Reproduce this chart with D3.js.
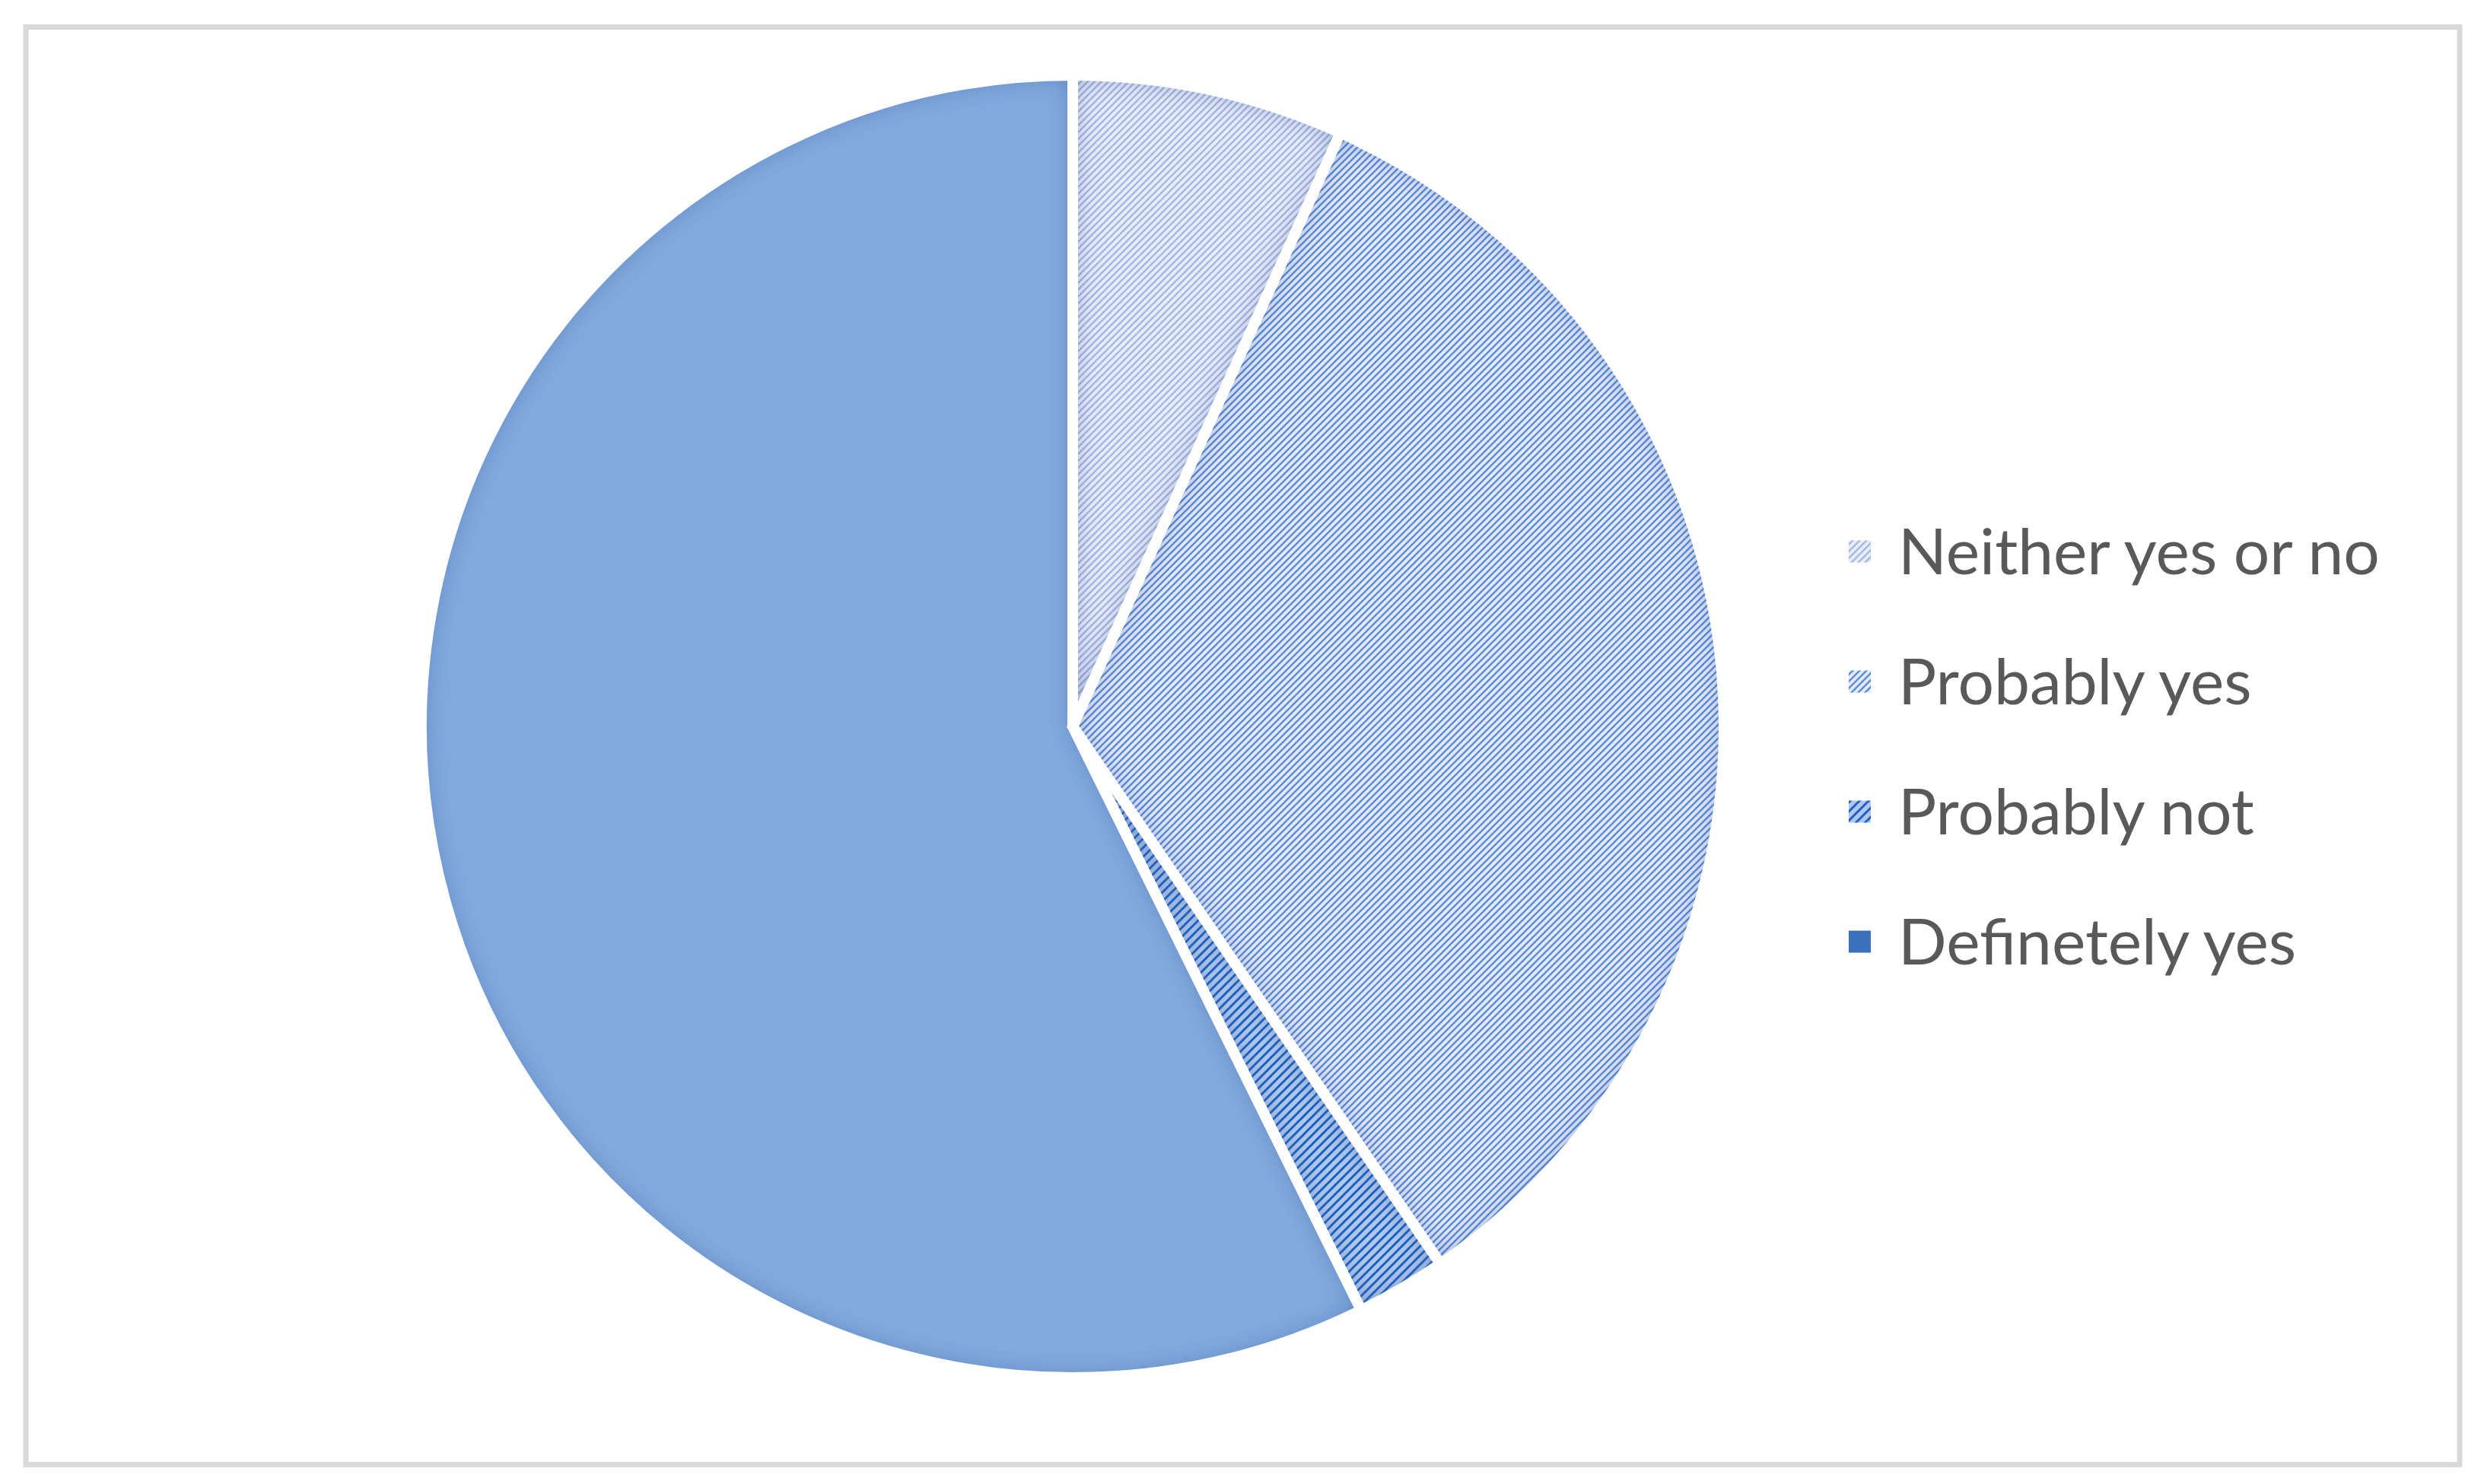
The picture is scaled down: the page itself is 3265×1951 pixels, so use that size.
<!DOCTYPE html>
<html>
<head>
<meta charset="utf-8">
<script src="https://cdn.jsdelivr.net/npm/d3@7"></script>
<style>
  html, body { margin: 0; padding: 0; background: #ffffff; }
  svg { display: block; }
</style>
</head>
<body>
<svg id="chart" width="3265" height="1951"></svg>
<script>
// ---- data ----
const categories = ["Neither yes or no", "Probably yes", "Probably not", "Definetely yes"];
const values = [6, 30, 2, 51];

// ---- styles ----
const fills = [
  { id: "patNeither", bg: "#e8edf8", line: "#a6b7e3", size: 9, width: 2.4 },
  { id: "patProbYes", bg: "#e2e9f7", line: "#5a8ad9", size: 9, width: 2.3 },
  { id: "patProbNot", bg: "#afc7ec", line: "#1f60c0", size: 12, width: 3 },
  { id: null, bg: "#82aade" }
];

const W = 3265, H = 1951;
const cx = 1410, cy = 955, R = 856;

const svg = d3.select("#chart");
const defs = svg.append("defs");

// hatch patterns
fills.forEach(f => {
  if (!f.id) return;
  const p = defs.append("pattern")
    .attr("id", f.id)
    .attr("patternUnits", "userSpaceOnUse")
    .attr("width", f.size).attr("height", f.size);
  p.append("rect").attr("width", f.size).attr("height", f.size).attr("fill", f.bg);
  const s = f.size;
  p.append("path")
    .attr("d", `M${-s/2},${s/2} L${s/2},${-s/2} M0,${s} L${s},0 M${s/2},${s*1.5} L${s*1.5},${s/2}`)
    .attr("stroke", f.line).attr("stroke-width", f.width).attr("stroke-linecap", "square");
});

// inner shadow filter
const filt = defs.append("filter").attr("id", "inner")
  .attr("x", "-10%").attr("y", "-10%").attr("width", "120%").attr("height", "120%");
filt.append("feFlood").attr("flood-color", "#3566b4").attr("flood-opacity", 0.75).attr("result", "flood");
filt.append("feComposite").attr("in", "flood").attr("in2", "SourceAlpha").attr("operator", "out").attr("result", "outside");
filt.append("feGaussianBlur").attr("in", "outside").attr("stdDeviation", 18).attr("result", "blur");
filt.append("feComposite").attr("in", "blur").attr("in2", "SourceAlpha").attr("operator", "in").attr("result", "shadow");
const merge = filt.append("feMerge");
merge.append("feMergeNode").attr("in", "SourceGraphic");
merge.append("feMergeNode").attr("in", "shadow");

// frame
svg.append("rect")
  .attr("x", 34).attr("y", 35.5)
  .attr("width", 3199).attr("height", 1890)
  .attr("fill", "#ffffff")
  .attr("stroke", "#d9d9d9").attr("stroke-width", 7);

// pie
const pie = d3.pie().sort(null).value(d => d)(values);
const arc = d3.arc().innerRadius(0).outerRadius(R);

const g = svg.append("g").attr("transform", `translate(${cx},${cy})`);

g.selectAll("path.slice")
  .data(pie)
  .join("path")
  .attr("class", "slice")
  .attr("d", arc)
  .attr("fill", (d, i) => fills[i].id ? `url(#${fills[i].id})` : fills[i].bg)
  .attr("filter", "url(#inner)");

g.selectAll("path.border")
  .data(pie)
  .join("path")
  .attr("class", "border")
  .attr("d", arc)
  .attr("fill", "none")
  .attr("stroke", "#ffffff")
  .attr("stroke-width", 14)
  .attr("stroke-linejoin", "miter");

// legend
const legX = 2430, legY0 = 725, legStep = 171, sw = 29;
const leg = svg.append("g");
const rows = leg.selectAll("g.row")
  .data(categories)
  .join("g")
  .attr("class", "row")
  .attr("transform", (d, i) => `translate(${legX},${legY0 + i * legStep})`);

rows.append("rect")
  .attr("x", 0).attr("y", -sw / 2)
  .attr("width", sw).attr("height", sw)
  .attr("fill", (d, i) => fills[i].id ? `url(#${fills[i].id})` : "#3b72c0");

// fit font size so the first label spans ~633px
const probe = svg.append("text").attr("font-family", "Lato, 'Open Sans', sans-serif")
  .attr("font-size", 70).text(categories[0]);
const w70 = probe.node().getComputedTextLength() || 620;
probe.remove();
const fs = 70 * 633 / w70;

rows.append("text")
  .attr("x", 65)
  .attr("y", fs * 0.36)
  .attr("font-family", "Lato, 'Open Sans', sans-serif")
  .attr("font-size", fs)
  .attr("fill", "#595959")
  .text(d => d);
</script>
</body>
</html>
